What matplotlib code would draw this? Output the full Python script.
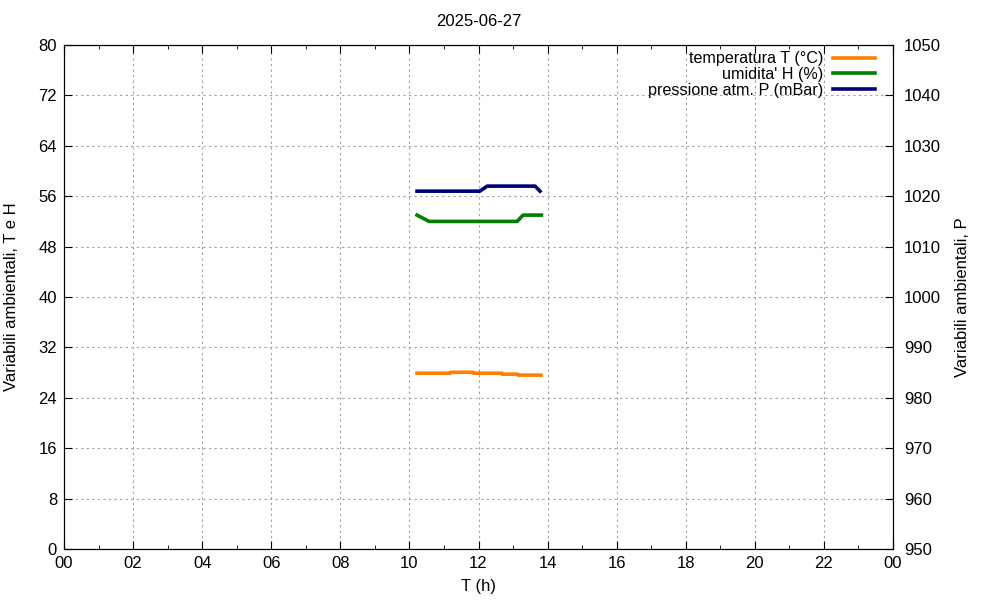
import numpy as np
import matplotlib.pyplot as plt

plt.rcParams['font.family'] = ['Liberation Sans', 'DejaVu Sans']
plt.rcParams['font.size'] = 12

# ore (h) e valori
t_T = [10.22, 11.17, 11.19, 11.84, 11.86, 12.67, 12.69, 13.13, 13.15, 13.81]
T = [27.9, 27.9, 28.05, 28.05, 27.9, 27.9, 27.75, 27.75, 27.6, 27.6]

t_H = [10.22, 10.57, 13.12, 13.29, 13.82]
H = [53, 52, 52, 53, 53]

t_P = [10.22, 12.04, 12.25, 13.64, 13.78]
P = [1021, 1021, 1022, 1022, 1021]

xt = np.arange(0, 25, 2)
xlab = ["%02d" % (h % 24) for h in xt]

fig = plt.figure(figsize=(10, 6), dpi=100)
ax = fig.add_axes([0.064, 0.085, 0.829, 0.84])
ax2 = ax.twinx()

l1, = ax.plot(t_T, T, color='#ff7f00', lw=2.6, label='temperatura T (°C)')
l2, = ax.plot(t_H, H, color='#007f00', lw=2.6, label="umidita' H (%)")
l3, = ax2.plot(t_P, P, color='#00007f', lw=2.6, label='pressione atm. P (mBar)')

ax.set_xlim(0, 24)
ax.set_ylim(0, 80)
ax2.set_ylim(950, 1050)
ax.set_xticks(xt)
ax.set_xticklabels(xlab)
ax.set_xticks(np.arange(1, 24, 2), minor=True)
ax.set_yticks(np.arange(0, 81, 8))
ax2.set_yticks(np.arange(950, 1051, 10))

ax.tick_params(direction='in', length=6, top=True, labelsize=12, pad=5)
ax.tick_params(which='minor', direction='in', length=3, top=True)
ax2.tick_params(direction='in', length=6, labelsize=12, pad=8)

ax.grid(True, color='#a0a0a0', linestyle=(0, (2, 3)), lw=0.8)

ax.set_xlabel('T (h)', labelpad=6)
ax.set_ylabel('Variabili ambientali, T e H', labelpad=14)
ax2.set_ylabel('Variabili ambientali, P', labelpad=10)
ax.set_title('2025-06-27', fontsize=12, pad=14)

ax.legend(handles=[l1, l2, l3], loc='upper right', frameon=False, markerfirst=False,
          handlelength=2.6, handletextpad=0.6, labelspacing=0.05, borderaxespad=0.3,
          fontsize=11.6, bbox_to_anchor=(0.992, 1.01))

fig.savefig('out.png', dpi=100)
